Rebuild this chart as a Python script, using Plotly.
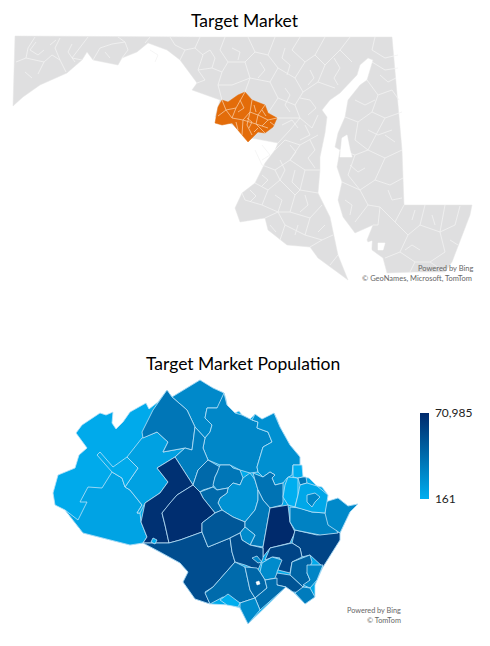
import plotly.graph_objects as go
from plotly.colors import sample_colorscale

# map outlines are in the reference's own map units (x right, y down)
state_title = 'Target Market'
pop_title = 'Target Market Population'
pop_min = 161
pop_max = 70985
pop_ticks = ['161', '70,985']
blues = [[0, '#00AEEF'], [0.5, '#006CAD'], [1, '#002A6C']]

state_outline = [(15, 36), (200, 37), (392, 37), (402, 150), (404, 205), (472, 205), (470, 215), (462, 235), (452, 262),
                 (445, 272), (415, 272), (387, 273), (383, 258), (372, 250), (367, 240), (373, 225), (355, 233),
                 (343, 217), (338, 200), (342, 182), (337, 167), (340, 150), (335, 147), (338, 133), (345, 117),
                 (348, 100), (360, 85), (367, 80), (373, 60), (368, 58), (360, 65), (357, 75), (340, 93), (330, 100),
                 (322, 110), (327, 117), (325, 133), (320, 157), (320, 170), (318, 193), (330, 217), (338, 255),
                 (348, 280), (318, 258), (310, 247), (287, 245), (268, 230), (265, 218), (240, 222), (235, 208),
                 (242, 193), (255, 183), (265, 163), (275, 150), (278, 143), (262, 140), (245, 137), (233, 125),
                 (215, 117), (220, 100), (192, 90), (197, 83), (180, 60), (167, 50), (148, 43), (137, 52), (122, 58),
                 (118, 65), (93, 60), (87, 52), (82, 60), (67, 73), (40, 85), (23, 97), (13, 106)]
state_gaps = [[(342, 138), (347, 135), (350, 150), (352, 157), (340, 157)],
              [(366, 243), (372, 241), (371, 254), (367, 252)],
              [(378, 243), (385, 243), (383, 250), (378, 250)],
              [(371, 262), (378, 260), (380, 272), (372, 274)]]
state_lines = [
    [(35, 37), (28, 48), (26, 58), (16, 62)], [(26, 58), (37, 60), (44, 62), (38, 74)], [(44, 62), (52, 55), (60, 60), (66, 72)],
    [(60, 38), (55, 48), (60, 60)], [(88, 37), (78, 50), (72, 58), (82, 60)], [(36, 42), (30, 50), (38, 55), (44, 50)],
    [(118, 37), (125, 42), (128, 50), (122, 58)], [(93, 60), (100, 48), (112, 44), (125, 42)], [(150, 37), (145, 43)],
    [(170, 37), (175, 45), (185, 50), (180, 60)], [(200, 37), (195, 48), (203, 55), (198, 70), (205, 80), (197, 83)],
    [(185, 50), (195, 48)], [(225, 37), (220, 50), (228, 62), (222, 72), (218, 85), (222, 100)], [(198, 70), (212, 68), (222, 72)],
    [(248, 37), (255, 52), (245, 62), (250, 78), (245, 92)], [(228, 62), (245, 62)], [(218, 85), (232, 85), (250, 78)],
    [(275, 37), (268, 55), (278, 68), (270, 82), (278, 98), (268, 113)], [(255, 52), (268, 55)], [(250, 78), (270, 82)],
    [(300, 37), (292, 50), (305, 62), (295, 78), (303, 92), (295, 105), (300, 118), (290, 130), (278, 143)],
    [(278, 68), (295, 78)], [(278, 98), (295, 105)], [(277, 118), (300, 118), (312, 128), (318, 115)],
    [(325, 37), (315, 55), (325, 65), (318, 82), (303, 92)], [(305, 62), (315, 55)], [(318, 82), (335, 88)],
    [(350, 37), (340, 50), (352, 62)], [(325, 65), (340, 50)], [(375, 37), (372, 50), (385, 58), (398, 55)],
    [(372, 62), (385, 70), (398, 68)], [(367, 80), (378, 95), (392, 90), (399, 100)], [(378, 95), (372, 112), (385, 118), (402, 112)],
    [(345, 117), (358, 122), (372, 112)], [(358, 122), (355, 140), (368, 150), (385, 118)], [(340, 150), (355, 155), (368, 150), (385, 158), (402, 150)],
    [(355, 155), (348, 175), (360, 190), (342, 182)], [(385, 158), (375, 180), (360, 190), (368, 205), (355, 222)],
    [(375, 180), (390, 185), (403, 178)], [(368, 205), (380, 207), (378, 225), (373, 225)], [(404, 205), (395, 222), (380, 207)],
    [(395, 222), (408, 235), (400, 252), (385, 258)], [(425, 205), (420, 225), (408, 235)], [(420, 225), (440, 232), (445, 252), (430, 262), (445, 272)],
    [(445, 205), (440, 232)], [(460, 206), (455, 225), (440, 232)], [(400, 252), (415, 262), (430, 262)], [(415, 262), (410, 272)],
    [(255, 150), (262, 165), (275, 170), (290, 160), (305, 170), (320, 170)], [(275, 150), (285, 140), (300, 145), (290, 160)],
    [(300, 145), (318, 135)], [(305, 170), (300, 190), (318, 193)], [(255, 183), (268, 190), (280, 180), (275, 170)],
    [(268, 190), (262, 205), (245, 200), (242, 193)], [(262, 205), (278, 212), (265, 218)], [(280, 180), (295, 195), (300, 190)],
    [(295, 195), (290, 212), (278, 212)], [(290, 212), (310, 218), (322, 205)], [(310, 218), (305, 235), (322, 240), (333, 235)],
    [(285, 225), (305, 235)], [(278, 212), (285, 225), (280, 240)], [(310, 247), (322, 240)], [(330, 265), (338, 255)],
    # finer zip boundaries, densest around the middle of the state
    [(202, 55), (210, 50), (215, 58), (212, 68)], [(232, 48), (240, 52), (238, 60)], [(260, 62), (265, 70), (258, 78)],
    [(285, 48), (282, 58), (290, 65), (287, 75)], [(310, 70), (314, 78), (308, 85)], [(334, 58), (340, 68), (334, 78), (338, 85)],
    [(285, 88), (290, 95), (285, 105), (290, 112)], [(300, 98), (310, 100), (316, 108), (308, 115)], [(282, 125), (292, 120), (298, 128)],
    [(305, 125), (310, 135), (300, 140)], [(262, 145), (270, 155), (262, 160)], [(290, 145), (296, 152), (290, 160)],
    [(310, 140), (315, 150), (308, 158), (315, 168)], [(280, 160), (285, 170), (280, 180)], [(295, 170), (292, 182), (300, 190)],
    [(262, 175), (268, 180), (262, 186)], [(250, 190), (256, 196), (250, 202)], [(275, 195), (282, 200), (278, 212)],
    [(305, 195), (308, 205), (300, 212)], [(298, 225), (295, 235)], [(270, 225), (276, 232)], [(325, 225), (318, 232)],
    [(350, 165), (358, 172), (365, 168)], [(368, 130), (378, 135), (392, 130)], [(385, 135), (395, 142)], [(355, 100), (365, 105), (375, 100)],
    [(380, 75), (388, 82), (396, 78)], [(345, 200), (352, 205), (350, 215)], [(388, 190), (392, 200), (402, 198)],
    [(415, 210), (412, 220)], [(432, 215), (435, 225)], [(405, 250), (412, 245), (420, 250)], [(450, 240), (458, 245)],
    [(150, 50), (158, 55), (155, 62)], [(105, 52), (110, 58)], [(75, 62), (68, 52), (72, 44)], [(50, 45), (56, 40)], [(25, 72), (32, 78)]]

target_outline = [(215, 123), (218, 107), (222, 100), (228, 102), (238, 95), (245, 92), (252, 100), (265, 105), (268, 113),
                  (277, 118), (273, 127), (265, 133), (258, 132), (248, 142), (242, 135), (232, 123), (222, 125)]
target_lines = [[(222, 100), (226, 110), (218, 116)], [(226, 110), (236, 108), (245, 92)], [(236, 108), (232, 118), (226, 110)],
                [(232, 118), (243, 120), (242, 135)], [(243, 120), (250, 112), (252, 100)], [(250, 112), (258, 115), (265, 105)],
                [(258, 115), (256, 124), (243, 120)], [(256, 124), (265, 133)], [(258, 115), (268, 120), (277, 118)],
                [(268, 120), (262, 126), (256, 124)], [(250, 112), (247, 125), (252, 135)], [(262, 126), (268, 128)],
                [(240, 100), (244, 108), (238, 112)], [(254, 105), (256, 112)], [(262, 110), (266, 116)], [(247, 118), (252, 122), (249, 128)],
                [(258, 128), (254, 132)], [(236, 122), (238, 130)], [(270, 122), (274, 125)]]

region_values = [2500, 6000, 7000, 20000, 30000, 21000, 16000, 2500, 26000, 37000, 30000, 15000, 37000, 32000, 67000,
                 69000, 52000, 47000, 29000, 19000, 70985, 57000, 24000, 20000, 53000, 57000, 19000, 21000, 40000, 22000,
                 49000, 27000, 36000, 39000, 35000, 19000, 700, 161, 161, 31000, 4000, 22000, 161]
region_shapes = [
    # whole footprint first, the later regions paint over it
    [(200, 380), (207, 385), (213, 388), (224, 393), (226, 399), (227, 405), (231, 412), (235, 413), (239, 411), (242, 415), (250, 419), (255, 414),
     (258, 418), (262, 419), (268, 418), (274, 413), (277, 419), (280, 427), (285, 436), (290, 445), (296, 452), (300, 457), (300, 465), (303, 477), (309, 478), (317, 486), (322, 487),
     (328, 495), (327, 502), (338, 498), (348, 506), (358, 504), (350, 512),
     (340, 533), (340, 540), (323, 567), (315, 585), (315, 597), (305, 604), (293, 592), (286, 587), (248, 624), (240, 608), (230, 605),
     (210, 604), (195, 599), (183, 582), (188, 572), (180, 563), (160, 552), (143, 543), (130, 545), (83, 533), (65, 510), (55, 505),
     (53, 493), (58, 475), (75, 468), (79, 455), (87, 448), (76, 433), (82, 425), (100, 413), (106, 415), (113, 412), (112, 423), (116, 429),
     (123, 422), (130, 412), (146, 403), (149, 409), (158, 402), (167, 390), (172, 397)],
    [(65, 510), (78, 520), (87, 502), (80, 502), (88, 487), (102, 488), (112, 472), (122, 478), (125, 487), (130, 490), (142, 505),
     (137, 513), (140, 513), (141, 522), (147, 537), (143, 543), (130, 545), (83, 533)],
    [(142, 438), (157, 432), (168, 442), (163, 452), (185, 448), (175, 457), (157, 468), (168, 482), (160, 493), (145, 503), (140, 513),
     (137, 513), (142, 505), (130, 490), (125, 487), (138, 468), (127, 457)],
    [(172, 397), (200, 380), (213, 388), (224, 393), (227, 405), (217, 408), (207, 408), (205, 418), (212, 425), (210, 432), (205, 438),
     (195, 427), (187, 410)],
    [(167, 390), (172, 397), (187, 410), (195, 427), (192, 450), (185, 448), (163, 452), (168, 442), (157, 432), (143, 438), (142, 432),
     (148, 420), (153, 410)],
    [(224, 393), (227, 405), (235, 413), (242, 415), (250, 419), (252, 420), (258, 422), (257, 428), (268, 432), (272, 442), (263, 447),
     (257, 467), (258, 472), (250, 473), (240, 470), (230, 465), (220, 465), (208, 460), (203, 448), (205, 438), (210, 432), (212, 425),
     (205, 418), (207, 408), (217, 408)],
    [(263, 447), (272, 442), (268, 432), (257, 428), (258, 422), (252, 420), (255, 414), (262, 419), (274, 413), (280, 427), (290, 445),
     (300, 457), (300, 465), (293, 465), (292, 475), (287, 478), (283, 483), (275, 485), (272, 478), (275, 475), (270, 472), (263, 477),
     (258, 472), (257, 467)],
    [(97, 455), (100, 452), (113, 467), (127, 457), (138, 468), (125, 487), (122, 478), (112, 472)],
    [(192, 450), (185, 448), (175, 457), (193, 485), (198, 470), (208, 460), (203, 448), (205, 438), (195, 427)],
    [(193, 485), (198, 470), (208, 460), (220, 467), (217, 473), (215, 477), (213, 487), (203, 490), (200, 492)],
    [(217, 473), (220, 465), (230, 465), (233, 468), (240, 470), (243, 478), (240, 485), (233, 483), (228, 488), (217, 490), (213, 485),
     (215, 477)],
    [(243, 478), (250, 473), (253, 477), (255, 480), (258, 490), (258, 500), (255, 510), (248, 518), (245, 522), (233, 517), (222, 510),
     (218, 503), (220, 498), (227, 493), (228, 488), (233, 483), (240, 485)],
    [(200, 492), (213, 487), (217, 490), (228, 488), (227, 493), (220, 498), (218, 503), (222, 510), (215, 513), (203, 498)],
    [(253, 473), (263, 477), (270, 472), (275, 475), (272, 478), (275, 485), (283, 483), (283, 502), (282, 505), (270, 508), (263, 500),
     (258, 490), (255, 480)],
    [(175, 457), (193, 485), (177, 495), (170, 503), (162, 513), (165, 525), (169, 543), (143, 543), (147, 537), (141, 522), (145, 503),
     (160, 493), (168, 482), (157, 468)],
    [(193, 485), (200, 492), (203, 498), (215, 513), (202, 523), (202, 532), (180, 540), (169, 543), (165, 525), (162, 513), (170, 503),
     (177, 495)],
    [(143, 543), (169, 543), (180, 540), (202, 532), (208, 547), (230, 538), (232, 552), (235, 562), (228, 570), (213, 587), (205, 592),
     (210, 604), (195, 599), (183, 582), (188, 572), (180, 563), (160, 552)],
    [(215, 513), (222, 510), (233, 517), (245, 522), (245, 527), (240, 533), (230, 538), (208, 547), (202, 532), (202, 523)],
    [(258, 490), (263, 500), (270, 508), (263, 547), (250, 545), (255, 535), (245, 527), (245, 522), (255, 510), (258, 500)],
    [(240, 533), (245, 527), (255, 535), (250, 545), (242, 540)],
    [(270, 508), (288, 505), (290, 522), (295, 532), (290, 543), (270, 548), (263, 557), (263, 547)],
    [(295, 530), (317, 535), (340, 532), (340, 540), (323, 567), (310, 555), (302, 557), (300, 548), (292, 543)],
    [(290, 507), (300, 508), (312, 512), (327, 513), (338, 533), (320, 535), (295, 530), (290, 522)],
    [(325, 502), (338, 498), (348, 506), (358, 504), (350, 512), (340, 533), (328, 525), (325, 513)],
    [(230, 538), (240, 533), (242, 540), (250, 545), (263, 548), (263, 558), (258, 570), (245, 565), (235, 562), (232, 552)],
    [(270, 548), (292, 543), (300, 548), (302, 557), (292, 562), (290, 573), (278, 570), (280, 558), (273, 557), (265, 560)],
    [(262, 563), (272, 557), (282, 560), (277, 572), (277, 578), (265, 580), (260, 572)],
    [(252, 558), (257, 556), (262, 562), (258, 563)],
    [(292, 562), (310, 555), (312, 562), (307, 573), (310, 580), (303, 587), (290, 575)],
    [(307, 565), (323, 565), (317, 580), (310, 588), (303, 585), (310, 580), (307, 573)],
    [(277, 573), (290, 575), (303, 587), (303, 593), (293, 592), (286, 587), (277, 585), (275, 578)],
    [(303, 587), (310, 588), (315, 597), (305, 604), (295, 593)],
    [(235, 562), (245, 567), (250, 590), (255, 598), (240, 603), (223, 597), (210, 604), (205, 593), (213, 587), (228, 570)],
    [(245, 567), (257, 568), (260, 572), (265, 580), (267, 588), (255, 598), (250, 590), (247, 577)],
    [(265, 580), (277, 578), (277, 585), (286, 587), (260, 610), (255, 598), (267, 588)],
    [(240, 603), (255, 598), (260, 610), (248, 624), (240, 608)],
    [(220, 600), (228, 594), (240, 603), (238, 607), (227, 605)],
    [(288, 477), (298, 478), (298, 495), (295, 507), (288, 505), (283, 497), (285, 485)],
    [(293, 465), (302, 465), (303, 477), (298, 478), (293, 477)],
    [(303, 477), (306, 477), (307, 483), (300, 485), (298, 478)],
    [(300, 485), (307, 483), (317, 486), (328, 495), (327, 502), (325, 513), (312, 512), (300, 508), (295, 507), (298, 495)],
    [(307, 495), (315, 493), (320, 497), (315, 502), (312, 507), (307, 502)],
    [(153, 538), (157, 540), (155, 544), (151, 542)],
]
region_holes = [[(256, 582), (259, 581), (260, 584), (257, 585)]]


def unzip(points):
    xs = [p[0] for p in points]
    ys = [p[1] for p in points]
    return xs + [xs[0]], ys + [ys[0]]


def add_polygon(fig, points, fill, line, width):
    xs, ys = unzip(points)
    fig.add_trace(go.Scatter(x=xs, y=ys, mode='lines', fill='toself', fillcolor=fill,
                             line=dict(color=line, width=width), hoverinfo='skip', showlegend=False))


def add_lines(fig, paths, color, width):
    for path in paths:
        fig.add_trace(go.Scatter(x=[p[0] for p in path], y=[p[1] for p in path], mode='lines',
                                 line=dict(color=color, width=width), hoverinfo='skip', showlegend=False))


fig = go.Figure()

# top map
add_polygon(fig, state_outline, '#DFDFE0', '#E6E6E6', 0.5)
add_lines(fig, state_lines, '#F2F2F2', 0.8)
for gap in state_gaps:
    add_polygon(fig, gap, 'white', 'white', 0.5)
add_polygon(fig, target_outline, '#E36C0A', '#E36C0A', 0.5)
add_lines(fig, target_lines, '#F8C9A0', 0.8)

# bottom map
for shape, value in zip(region_shapes, region_values):
    t = (value - pop_min) / (pop_max - pop_min)
    add_polygon(fig, shape, sample_colorscale(blues, t)[0], '#BCE2F7', 0.8)
for hole in region_holes:
    add_polygon(fig, hole, 'white', 'white', 0.5)

# off-range points only carry the colour bar
fig.add_trace(go.Scatter(x=[-50, -50], y=[-50, -60], mode='markers', hoverinfo='skip', showlegend=False,
                         marker=dict(color=[pop_min, pop_max], cmin=pop_min, cmax=pop_max, colorscale=blues, size=2,
                                     colorbar=dict(x=420 / 490, xanchor='left', xpad=0, y=1 - 413 / 646, yanchor='top', ypad=0,
                                                   len=86 / 646, lenmode='fraction', thickness=9, thicknessmode='pixels',
                                                   outlinewidth=0, tickmode='array', tickvals=[pop_min, pop_max],
                                                   ticktext=pop_ticks, ticks='outside', ticklen=4,
                                                   tickcolor='rgba(0,0,0,0)',
                                                   tickfont=dict(family='Lato', size=12, color='#222222')))))

notes = [(245, 20, state_title, 17.5, 'center', 'black'),
         (243, 363, pop_title, 17.5, 'center', 'black'),
         (475, 268, 'Powered by Bing', 7.5, 'right', '#666666'),
         (474, 278, '© GeoNames, Microsoft, TomTom', 7.5, 'right', '#666666'),
         (403, 610, 'Powered by Bing', 7.3, 'right', '#666666'),
         (403, 620, '© TomTom', 7.3, 'right', '#666666')]
for x, y, text, size, anchor, color in notes:
    fig.add_annotation(x=x, y=y, text=text, showarrow=False, xanchor=anchor, yanchor='middle', xref='x', yref='y',
                       font=dict(family='Lato', size=size, color=color))

fig.update_xaxes(range=[0, 490], visible=False)
fig.update_yaxes(range=[646, 0], visible=False)
fig.update_layout(width=490, height=646, margin=dict(l=0, r=0, t=0, b=0, autoexpand=False),
                  plot_bgcolor='white', paper_bgcolor='white', showlegend=False)

fig.write_html("out.html", config={'displayModeBar': False}, post_script="document.body.style.margin='0';")
